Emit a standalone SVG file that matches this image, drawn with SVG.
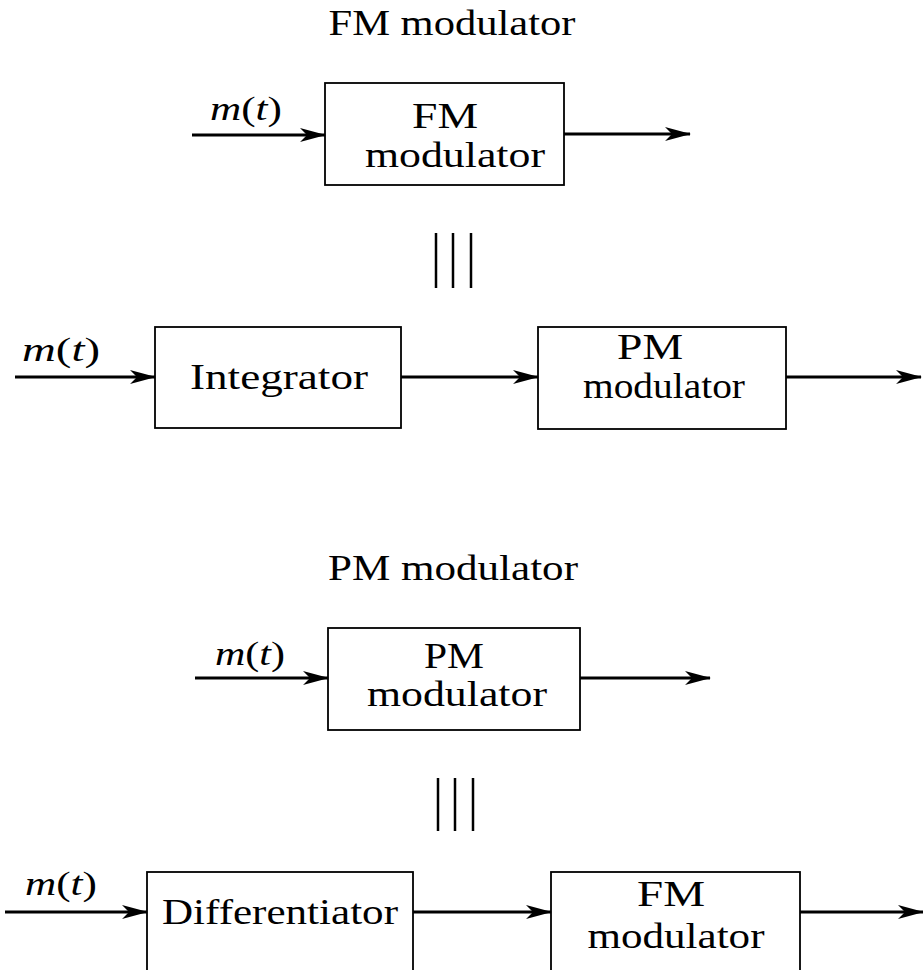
<svg xmlns="http://www.w3.org/2000/svg" width="923" height="970" viewBox="0 0 923 970">
<defs>
<style>
.box{fill:#fff;stroke:#000;stroke-width:1.8}
.t{font-family:"Liberation Serif","Times New Roman",serif;font-size:36px;fill:#000;text-anchor:middle}
.m{font-family:"Liberation Serif","Times New Roman",serif;font-size:34px;fill:#000}
.i{font-style:italic}
.c{stroke:#000;stroke-width:3;fill:none;marker-end:url(#ah)}
.bar{stroke:#000;stroke-width:2.5}
</style>
<marker id="ah" viewBox="0 0 26 14" refX="25" refY="7" markerWidth="26" markerHeight="14" markerUnits="userSpaceOnUse" orient="auto">
<path d="M0,0 L26,7 L0,14 L7,7 z" fill="#000"/>
</marker>
</defs>
<rect width="923" height="970" fill="#fff"/>

<text class="t" x="452" y="35" textLength="247" lengthAdjust="spacingAndGlyphs">FM modulator</text>
<text class="t" x="453" y="580" textLength="250" lengthAdjust="spacingAndGlyphs">PM modulator</text>

<g id="fm1">
<rect class="box" x="325" y="83" width="239" height="102"/>
<text class="t" x="445" y="128" textLength="66" lengthAdjust="spacingAndGlyphs">FM</text>
<text class="t" x="455" y="167" textLength="180" lengthAdjust="spacingAndGlyphs">modulator</text>
</g>
<g id="integrator">
<rect class="box" x="155" y="327" width="246" height="101"/>
<text class="t" x="279" y="389" textLength="178" lengthAdjust="spacingAndGlyphs">Integrator</text>
</g>
<g id="pm2">
<rect class="box" x="538" y="327" width="248" height="102"/>
<text class="t" x="650" y="359" textLength="66" lengthAdjust="spacingAndGlyphs">PM</text>
<text class="t" x="664" y="398" textLength="162" lengthAdjust="spacingAndGlyphs">modulator</text>
</g>
<g id="pm3">
<rect class="box" x="328" y="628" width="252" height="102"/>
<text class="t" x="454" y="668" textLength="60" lengthAdjust="spacingAndGlyphs">PM</text>
<text class="t" x="457" y="706" textLength="180" lengthAdjust="spacingAndGlyphs">modulator</text>
</g>
<g id="differentiator">
<rect class="box" x="147" y="872" width="266" height="110"/>
<text class="t" x="280" y="924" textLength="236" lengthAdjust="spacingAndGlyphs">Differentiator</text>
</g>
<g id="fm4">
<rect class="box" x="551" y="872" width="249" height="110"/>
<text class="t" x="671" y="906" textLength="68" lengthAdjust="spacingAndGlyphs">FM</text>
<text class="t" x="676" y="948" textLength="177" lengthAdjust="spacingAndGlyphs">modulator</text>
</g>

<g id="labels">
<text class="m" x="210" y="120" textLength="72" lengthAdjust="spacingAndGlyphs"><tspan class="i">m</tspan>(<tspan class="i">t</tspan>)</text>
<text class="m" x="22" y="361" textLength="78" lengthAdjust="spacingAndGlyphs"><tspan class="i">m</tspan>(<tspan class="i">t</tspan>)</text>
<text class="m" x="215" y="665" textLength="70" lengthAdjust="spacingAndGlyphs"><tspan class="i">m</tspan>(<tspan class="i">t</tspan>)</text>
<text class="m" x="25" y="895" textLength="72" lengthAdjust="spacingAndGlyphs"><tspan class="i">m</tspan>(<tspan class="i">t</tspan>)</text>
</g>

<g id="equiv">
<line class="bar" x1="436" y1="233" x2="436" y2="288"/>
<line class="bar" x1="453" y1="233" x2="453" y2="288"/>
<line class="bar" x1="471" y1="233" x2="471" y2="288"/>
<line class="bar" x1="438" y1="778" x2="438" y2="831"/>
<line class="bar" x1="455" y1="778" x2="455" y2="831"/>
<line class="bar" x1="473" y1="778" x2="473" y2="831"/>
</g>

<g id="connectors">
<line class="c" x1="192" y1="135" x2="325" y2="135"/>
<line class="c" x1="564" y1="134" x2="690" y2="134"/>
<line class="c" x1="15" y1="377" x2="155" y2="377"/>
<line class="c" x1="401" y1="377" x2="538" y2="377"/>
<line class="c" x1="786" y1="377" x2="921" y2="377"/>
<line class="c" x1="195" y1="678" x2="328" y2="678"/>
<line class="c" x1="580" y1="678" x2="710" y2="678"/>
<line class="c" x1="5" y1="912" x2="147" y2="912"/>
<line class="c" x1="413" y1="912" x2="551" y2="912"/>
<line class="c" x1="800" y1="912" x2="923" y2="912"/>
</g>
</svg>
